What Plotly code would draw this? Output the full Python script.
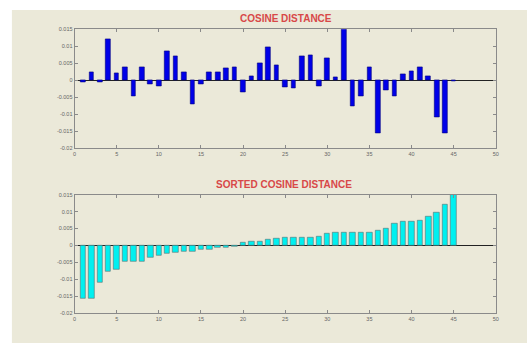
import plotly.graph_objects as go

W, H = 527, 343

index = list(range(1, 46))
cosine_distance = [
    -0.0006, 0.0023, -0.0007, 0.0122, 0.0021, 0.0037, -0.0047, 0.0038, -0.0013, -0.0019,
    0.0086, 0.0071, 0.0024, -0.0070, -0.0013, 0.0023, 0.0023, 0.0035, 0.0037, -0.0035,
    0.0013, 0.0049, 0.0096, 0.0045, -0.0022, -0.0024, 0.0071, 0.0073, -0.0017, 0.0066,
    0.0008, 0.0151, -0.0078, -0.0047, 0.0037, -0.0155, -0.0029, -0.0046, 0.0018, 0.0026,
    0.0039, 0.0011, -0.0109, -0.0155, -0.0004,
]
sorted_cosine_distance = sorted(cosine_distance)

x_ticks = [0, 5, 10, 15, 20, 25, 30, 35, 40, 45, 50]
y_ticks = [-0.02, -0.015, -0.01, -0.005, 0, 0.005, 0.01, 0.015]
y_tick_labels = ["-0.02", "-0.015", "-0.01", "-0.005", "0", "0.005", "0.01", "0.015"]

titles = ["COSINE DISTANCE", "SORTED COSINE DISTANCE"]

def px_x(p):
    return p / W

def px_y(p):
    return 1 - p / H

fig = go.Figure()
fig.add_trace(go.Bar(x=index, y=cosine_distance, width=0.55,
                     marker=dict(color="#0000e8", line=dict(color="#00007a", width=0.6)),
                     xaxis="x", yaxis="y", showlegend=False))
fig.add_trace(go.Bar(x=index, y=sorted_cosine_distance, width=0.65,
                     marker=dict(color="#00f0f0", line=dict(color="#5a7070", width=0.6)),
                     xaxis="x2", yaxis="y2", showlegend=False))

xdom = [px_x(73.3), px_x(498.5)]
ax_common = dict(showline=True, linecolor="#8a8a8a", linewidth=1, mirror="ticks",
                 ticks="inside", ticklen=3, tickcolor="#8a8a8a", showgrid=False,
                 tickfont=dict(family="Liberation Sans, Arial", size=5.5, color="#666666"))
xax = dict(ax_common, range=[0, 50], tickmode="array", tickvals=x_ticks,
           ticktext=[str(t) for t in x_ticks], zeroline=False)
yax = dict(ax_common, range=[-0.02, 0.015], tickmode="array", tickvals=y_ticks,
           ticktext=y_tick_labels, zeroline=True, zerolinecolor="#222222", zerolinewidth=1)

title_font = dict(family="Liberation Sans, Arial", size=10, color="#d84848")

fig.update_layout(
    width=W, height=H,
    margin=dict(l=0, r=0, t=0, b=0),
    paper_bgcolor="white", plot_bgcolor="white",
    bargap=0,
    xaxis=dict(xax, domain=xdom, anchor="y"),
    yaxis=dict(yax, domain=[px_y(147.7), px_y(26.7)], anchor="x"),
    xaxis2=dict(xax, domain=xdom, anchor="y2"),
    yaxis2=dict(yax, domain=[px_y(316), px_y(195)], anchor="x2"),
    shapes=[dict(type="rect", xref="paper", yref="paper", x0=px_x(10), x1=1.01,
                 y0=-0.01, y1=px_y(7), fillcolor="#ebe9d9", line=dict(width=0), layer="below")],
    annotations=[
        dict(text="<b>" + titles[0] + "</b>", xref="paper", yref="paper", x=px_x(287), y=px_y(16),
             showarrow=False, xanchor="center", yanchor="middle", font=title_font),
        dict(text="<b>" + titles[1] + "</b>", xref="paper", yref="paper", x=px_x(285), y=px_y(185),
             showarrow=False, xanchor="center", yanchor="middle", font=title_font),
    ],
)

fig.write_html("out.html", config={"displayModeBar": False},
               post_script="document.body.style.margin='0';document.body.style.overflow='hidden';")
